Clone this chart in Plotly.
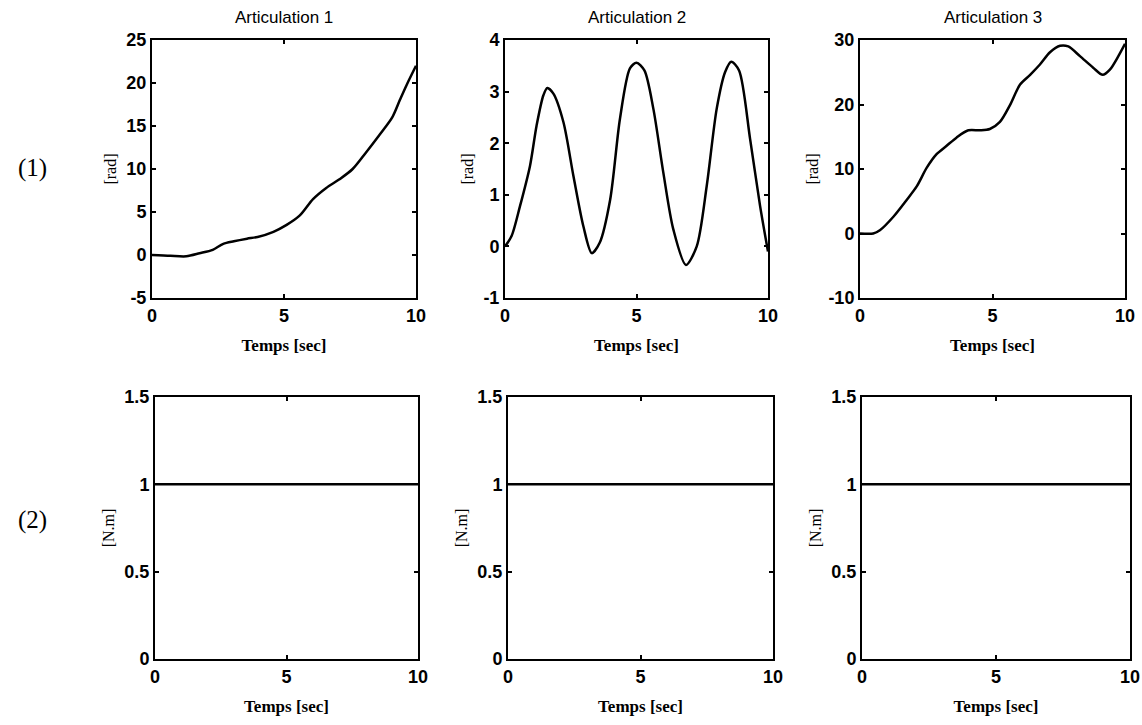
import plotly.graph_objects as go

W, H = 1142, 725

# ---- data ----
titles = ["Articulation 1", "Articulation 2", "Articulation 3"]
row_labels = ["(1)", "(2)"]
xlabel = "Temps [sec]"
ylabel_top = "[rad]"
ylabel_bot = "[N.m]"

x1 = [0, 0.7, 1.3, 1.8, 2.3, 2.7, 3.1, 3.6, 4.0, 4.6, 5.1, 5.6, 6.1, 6.6, 7.1, 7.6, 8.1, 8.6, 9.1, 9.4, 9.65, 10.0]
y1 = [0, -0.1, -0.15, 0.2, 0.6, 1.3, 1.6, 1.9, 2.1, 2.7, 3.5, 4.6, 6.5, 7.8, 8.8, 10.0, 11.9, 13.9, 16.0, 18.1, 19.8, 22.0]

x2 = [0, 0.25, 0.57, 0.95, 1.2, 1.46, 1.61, 1.84, 2.22, 2.6, 2.98, 3.3, 3.6, 4.0, 4.37, 4.75, 5.0, 5.3,
      5.64, 6.02, 6.4, 6.88, 7.29, 7.67, 8.05, 8.37, 8.6, 8.9, 9.32, 9.7, 10.0]
y2 = [0.0, 0.2, 0.78, 1.56, 2.34, 2.93, 3.07, 2.96, 2.41, 1.37, 0.39, -0.13, 0.07, 0.91, 2.47, 3.45, 3.56, 3.41,
      2.67, 1.43, 0.33, -0.36, 0.0, 1.17, 2.67, 3.38, 3.58, 3.41, 2.08, 0.78, -0.1]

x3 = [0, 0.5, 0.75, 1.26, 1.76, 2.14, 2.52, 2.89, 3.27, 3.65, 4.09, 4.53, 4.9, 5.28, 5.66, 6.04, 6.42, 6.79,
      7.17, 7.55, 7.86, 8.3, 8.8, 9.16, 9.43, 9.75, 10.0]
y3 = [0, 0, 0.5, 2.6, 5.2, 7.3, 10.2, 12.3, 13.6, 14.9, 16.0, 16.0, 16.2, 17.3, 19.9, 23.1, 24.6, 26.2,
      28.1, 29.1, 29.0, 27.5, 25.7, 24.6, 25.4, 27.5, 29.4]

xt = [0, 10]
torque1 = [1, 1]
torque2 = [1, 1]
torque3 = [1, 1]

xtick_vals = [0, 5, 10]
xtick_text = ["0", "5", "10"]
ytick_vals_1 = [-5, 0, 5, 10, 15, 20, 25]
ytick_text_1 = ["-5", "0", "5", "10", "15", "20", "25"]
ytick_vals_2 = [-1, 0, 1, 2, 3, 4]
ytick_text_2 = ["-1", "0", "1", "2", "3", "4"]
ytick_vals_3 = [-10, 0, 10, 20, 30]
ytick_text_3 = ["-10", "0", "10", "20", "30"]
ytick_vals_t = [0, 0.5, 1, 1.5]
ytick_text_t = ["0", "0.5", "1", "1.5"]

# ---- layout geometry (pixels) ----
boxes = [
    (152, 416, 40, 298), (505, 768, 40, 298), (860, 1125, 40, 298),
    (155, 418, 397, 659), (508, 773, 397, 659), (862, 1130, 397, 659),
]

series = [(x1, y1), (x2, y2), (x3, y3), (xt, torque1), (xt, torque2), (xt, torque3)]
yranges = [[-5, 25], [-1, 4], [-10, 30], [0, 1.5], [0, 1.5], [0, 1.5]]
yticks = [(ytick_vals_1, ytick_text_1), (ytick_vals_2, ytick_text_2), (ytick_vals_3, ytick_text_3),
          (ytick_vals_t, ytick_text_t), (ytick_vals_t, ytick_text_t), (ytick_vals_t, ytick_text_t)]

SANS = "Liberation Sans, Arial, sans-serif"
SERIF = "Liberation Serif, Times New Roman, serif"

fig = go.Figure()
layout = dict(
    width=W, height=H, margin=dict(l=0, r=0, t=0, b=0),
    paper_bgcolor="white", plot_bgcolor="white", showlegend=False,
    font=dict(family=SANS, size=17, color="black"),
)
annotations = []

for i, ((x0, x1p, yt, yb), (xs, ys)) in enumerate(zip(boxes, series)):
    n = i + 1
    xa = "xaxis" if n == 1 else f"xaxis{n}"
    ya = "yaxis" if n == 1 else f"yaxis{n}"
    xref = "x" if n == 1 else f"x{n}"
    yref = "y" if n == 1 else f"y{n}"
    fig.add_trace(go.Scatter(x=xs, y=ys, mode="lines", xaxis=xref, yaxis=yref,
                             line=dict(color="black", width=2.5, shape="spline", smoothing=0.8)))
    common = dict(showline=True, mirror="ticks", linecolor="black", linewidth=2,
                  ticks="inside", ticklen=4, tickwidth=1.5, tickcolor="black",
                  showgrid=False, zeroline=False, automargin=False,
                  tickfont=dict(family=SANS, size=18, color="black", weight="bold"))
    layout[xa] = dict(domain=[x0 / W, x1p / W], range=[0, 10], anchor=yref,
                      tickvals=xtick_vals, ticktext=xtick_text,
                      title=dict(text=xlabel, font=dict(family=SERIF, size=17, weight="bold"), standoff=15),
                      **common)
    tv, tt = yticks[i]
    layout[ya] = dict(domain=[1 - yb / H, 1 - yt / H], range=yranges[i], anchor=xref,
                      tickvals=tv, ticktext=tt,
                      title=dict(text=ylabel_top if i < 3 else ylabel_bot,
                                 font=dict(family=SERIF, size=16), standoff=6),
                      **common)
    if i < 3:
        annotations.append(dict(text=titles[i], x=(x0 + x1p) / 2 / W, y=1 - 18 / H,
                                xref="paper", yref="paper", showarrow=False,
                                font=dict(family=SANS, size=17, color="black"),
                                xanchor="center", yanchor="middle"))

annotations.append(dict(text=row_labels[0], x=32 / W, y=1 - 168 / H, xref="paper", yref="paper",
                        showarrow=False, font=dict(family=SERIF, size=25),
                        xanchor="center", yanchor="middle"))
annotations.append(dict(text=row_labels[1], x=32 / W, y=1 - 520 / H, xref="paper", yref="paper",
                        showarrow=False, font=dict(family=SERIF, size=25),
                        xanchor="center", yanchor="middle"))
layout["annotations"] = annotations

fig.update_layout(**layout)
fig.write_html("out.html")
